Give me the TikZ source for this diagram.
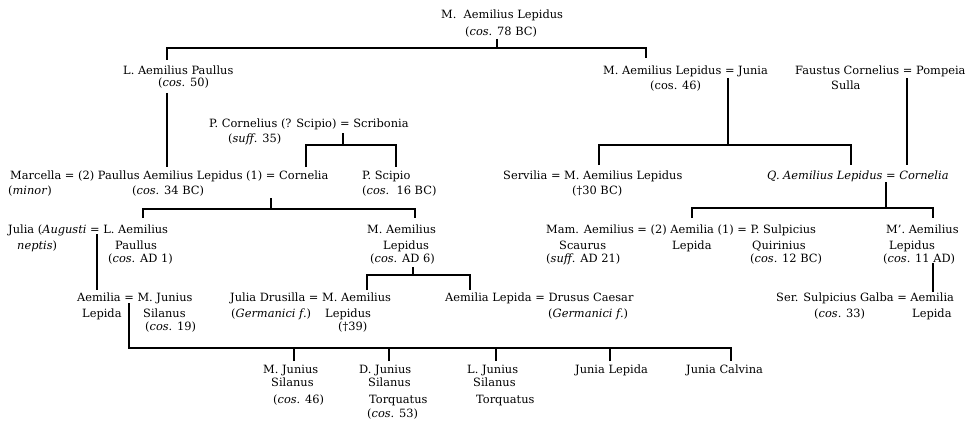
\documentclass[tikz,border=0pt]{standalone}
\usepackage{fontspec}
\setmainfont{DejaVu Serif}
\begin{document}
\begin{tikzpicture}[x=1pt,y=-1pt,
  txt/.style={anchor=base west, inner sep=0pt, yshift=-4.2pt, font=\fontsize{11.4}{13}\selectfont},
  ln/.style={line width=2.8pt}]
\useasboundingbox[fill=white] (0,0) rectangle (971,425);
% generation 1
\node[txt] (mal) at (441,14) {M.\ \ Aemilius Lepidus};
\node[txt] (malc) at (465,31) {(\textit{cos.} 78 BC)};
\coordinate (j1) at (497,39); \coordinate (j1b) at (497,48);
\coordinate (j1l) at (167,60); \coordinate (j1r) at (646,58);
\draw[ln] (j1) -- (j1b);
\draw[ln] (j1l) -- (j1l |- j1b) -- (j1r |- j1b) -- (j1r);
% generation 2
\node[txt] (lap) at (123,70) {L. Aemilius Paullus};
\node[txt] (lapc) at (158,82) {(\textit{cos.} 50)};
\coordinate (j2) at (167,93); \coordinate (j2b) at (167,167);
\draw[ln] (j2) -- (j2b);
\node[txt] (malj) at (603,70) {M. Aemilius Lepidus = Junia};
\node[txt] (maljc) at (650,85) {(cos. 46)};
\coordinate (j3) at (728,78); \coordinate (j3b) at (728,145);
\coordinate (j3l) at (599,165); \coordinate (j3r) at (851,165);
\draw[ln] (j3) -- (j3b);
\draw[ln] (j3l) -- (j3l |- j3b) -- (j3r |- j3b) -- (j3r);
\node[txt] (fcs) at (795,70) {Faustus Cornelius = Pompeia};
\node[txt] (fcs2) at (831,85) {Sulla};
\coordinate (j4) at (907,78); \coordinate (j4b) at (907,165);
\draw[ln] (j4) -- (j4b);
\node[txt] (pcs) at (209,123) {P. Cornelius (? Scipio) = Scribonia};
\node[txt] (pcsc) at (228,138) {(\textit{suff.} 35)};
\coordinate (j5) at (343,133); \coordinate (j5b) at (343,145);
\coordinate (j5l) at (306,167); \coordinate (j5r) at (396,167);
\draw[ln] (j5) -- (j5b);
\draw[ln] (j5l) -- (j5l |- j5b) -- (j5r |- j5b) -- (j5r);
% generation 3
\node[txt] (pal) at (10,175) {Marcella = (2) Paullus Aemilius Lepidus (1) = Cornelia};
\node[txt] (palm) at (8,190) {(\textit{minor})};
\node[txt] (palc) at (132,190) {(\textit{cos.} 34 BC)};
\node[txt] (psc) at (362,175) {P. Scipio};
\node[txt] (pscc) at (362,190) {(\textit{cos.}\ \ 16 BC)};
\node[txt] (srv) at (503,175) {Servilia = M. Aemilius Lepidus};
\node[txt] (srvc) at (572,190) {(†30 BC)};
\node[txt] (qal) at (767,175) {\textit{Q. Aemilius Lepidus} = \textit{Cornelia}};
\coordinate (j6) at (271,198); \coordinate (j6b) at (271,209);
\coordinate (j6l) at (143,218); \coordinate (j6r) at (415,218);
\draw[ln] (j6) -- (j6b);
\draw[ln] (j6l) -- (j6l |- j6b) -- (j6r |- j6b) -- (j6r);
\coordinate (j7) at (886,182); \coordinate (j7b) at (886,208);
\coordinate (j7l) at (692,218); \coordinate (j7r) at (933,218);
\draw[ln] (j7) -- (j7b);
\draw[ln] (j7l) -- (j7l |- j7b) -- (j7r |- j7b) -- (j7r);
% generation 4
\node[txt] (jul) at (8,229) {Julia (\textit{Augusti} = L. Aemilius};
\node[txt] (jul2) at (17,245) {\textit{neptis})};
\node[txt] (jul3) at (115,245) {Paullus};
\node[txt] (jul4) at (108,258) {(\textit{cos.} AD 1)};
\node[txt] (mal6) at (367,229) {M. Aemilius};
\node[txt] (mal6b) at (383,245) {Lepidus};
\node[txt] (mal6c) at (370,258) {(\textit{cos.} AD 6)};
\node[txt] (mam) at (546,229) {Mam. Aemilius = (2) Aemilia (1) = P. Sulpicius};
\node[txt] (mam2) at (559,245) {Scaurus};
\node[txt] (mam3) at (546,258) {(\textit{suff.} AD 21)};
\node[txt] (ael) at (672,245) {Lepida};
\node[txt] (psq) at (752,245) {Quirinius};
\node[txt] (psqc) at (750,258) {(\textit{cos.} 12 BC)};
\node[txt] (mpal) at (886,229) {M’. Aemilius};
\node[txt] (mpal2) at (889,245) {Lepidus};
\node[txt] (mpal3) at (883,258) {(\textit{cos.} 11 AD)};
\coordinate (j8) at (97,234); \coordinate (j8b) at (97,290);
\draw[ln] (j8) -- (j8b);
\coordinate (j9) at (413,267); \coordinate (j9b) at (413,275);
\coordinate (j9l) at (367,290); \coordinate (j9r) at (470,290);
\draw[ln] (j9) -- (j9b);
\draw[ln] (j9l) -- (j9l |- j9b) -- (j9r |- j9b) -- (j9r);
\coordinate (j10) at (933,263); \coordinate (j10b) at (933,292);
\draw[ln] (j10) -- (j10b);
% generation 5
\node[txt] (ael2) at (77,297) {Aemilia = M. Junius};
\node[txt] (ael2b) at (82,313) {Lepida};
\node[txt] (mjs) at (143,313) {Silanus};
\node[txt] (mjsc) at (145,326) {(\textit{cos.} 19)};
\node[txt] (jd) at (230,297) {Julia Drusilla = M. Aemilius};
\node[txt] (jdg) at (231,313) {(\textit{Germanici f.})};
\node[txt] (mal39) at (325,313) {Lepidus};
\node[txt] (mal39b) at (338,326) {(†39)};
\node[txt] (ald) at (445,297) {Aemilia Lepida = Drusus Caesar};
\node[txt] (aldg) at (548,313) {(\textit{Germanici f.})};
\node[txt] (ssg) at (776,297) {Ser. Sulpicius Galba = Aemilia};
\node[txt] (ssgc) at (814,313) {(\textit{cos.} 33)};
\node[txt] (ssgl) at (912,313) {Lepida};
\coordinate (j11) at (129,303); \coordinate (j11b) at (129,348);
\coordinate (j11r) at (731,361);
\draw[ln] (j11) -- (j11b) -- (j11r |- j11b) -- (j11r);
\coordinate (d1) at (294,361); \coordinate (d2) at (389,361);
\coordinate (d3) at (496,361); \coordinate (d4) at (610,361);
\foreach \d in {d1,d2,d3,d4} \draw[ln] (\d) -- (\d |- j11b);
% generation 6
\node[txt] (c1) at (263,369) {M. Junius};
\node[txt] (c1b) at (271,382) {Silanus};
\node[txt] (c1c) at (273,399) {(\textit{cos.} 46)};
\node[txt] (c2) at (359,369) {D. Junius};
\node[txt] (c2b) at (368,382) {Silanus};
\node[txt] (c2c) at (369,399) {Torquatus};
\node[txt] (c2d) at (367,413) {(\textit{cos.} 53)};
\node[txt] (c3) at (467,369) {L. Junius};
\node[txt] (c3b) at (473,382) {Silanus};
\node[txt] (c3c) at (476,399) {Torquatus};
\node[txt] (c4) at (575,369) {Junia Lepida};
\node[txt] (c5) at (686,369) {Junia Calvina};
\end{tikzpicture}
\end{document}
